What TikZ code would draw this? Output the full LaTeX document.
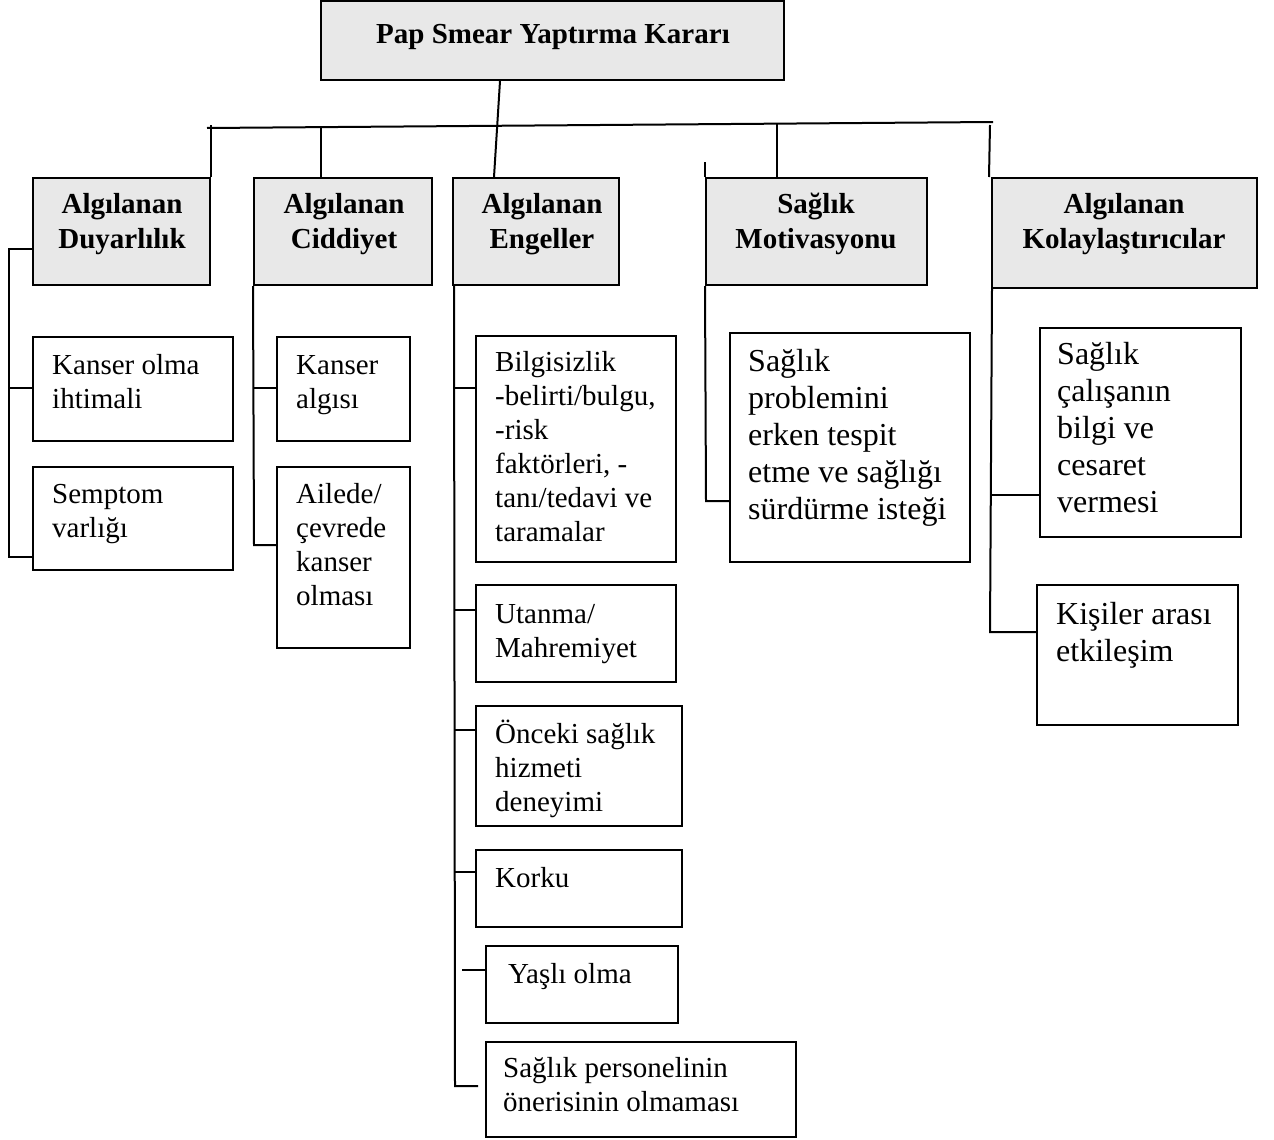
\documentclass[tikz,border=0pt]{standalone}
\usepackage{fontspec}
\setmainfont{Liberation Serif}
\usetikzlibrary{fit}
\definecolor{headfill}{HTML}{E8E8E8}
\begin{document}
\begin{tikzpicture}[x=1pt,y=-1pt,
  frame/.style={draw=black, line width=2pt, inner sep=0pt},
  headbox/.style={frame, fill=headfill},
  conn/.style={draw=black, line width=2pt},
  % texts are placed by the baseline of their last line
  headtxt/.style={inner sep=0pt, anchor=base, align=center,
    font=\fontsize{29}{35}\selectfont\bfseries},
  itemtxt/.style={inner sep=0pt, anchor=base west, align=left,
    font=\fontsize{29}{34}\selectfont},
  bigtxt/.style={inner sep=0pt, anchor=base west, align=left,
    font=\fontsize{32}{36.8}\selectfont}]
\fill[white] (0,0) rectangle (1274,1140);
\useasboundingbox (0,0) rectangle (1274,1140);

% decision box and the five model dimensions
\node[headbox, fit={(321,1) (784,80)}] (top) {};
\node[headtxt] (topt) at (553,44) {Pap Smear Yaptırma Kararı};

\node[headbox, fit={(33,178) (210,285)}] (h1) {};
\node[headbox, fit={(254,178) (432,285)}] (h2) {};
\node[headbox, fit={(453,178) (619,285)}] (h3) {};
\node[headbox, fit={(706,178) (927,285)}] (h4) {};
\node[headbox, fit={(992,178) (1257,288)}] (h5) {};
\node[headtxt] (h1t) at (122,248) {Algılanan\\Duyarlılık};
\node[headtxt] (h2t) at (344,248) {Algılanan\\Ciddiyet};
\node[headtxt] (h3t) at (542,248) {Algılanan\\Engeller};
\node[headtxt] (h4t) at (816,248) {Sağlık\\Motivasyonu};
\node[headtxt] (h5t) at (1124,248) {Algılanan\\Kolaylaştırıcılar};

% items under each dimension
\node[frame, fit={(33,337) (233,441)}] (k1) {};
\node[frame, fit={(33,467) (233,570)}] (k2) {};
\node[itemtxt] (k1t) at (52,408) {Kanser olma\\ihtimali};
\node[itemtxt] (k2t) at (52,537) {Semptom\\varlığı};

\node[frame, fit={(277,337) (410,441)}] (c1) {};
\node[frame, fit={(277,467) (410,648)}] (c2) {};
\node[itemtxt] (c1t) at (296,408) {Kanser\\algısı};
\node[itemtxt] (c2t) at (296,605) {Ailede/\\çevrede\\kanser\\olması};

\node[frame, fit={(476,336) (676,562)}] (e1) {};
\node[frame, fit={(476,585) (676,682)}] (e2) {};
\node[frame, fit={(476,706) (682,826)}] (e3) {};
\node[frame, fit={(476,850) (682,927)}] (e4) {};
\node[frame, fit={(486,946) (678,1023)}] (e5) {};
\node[frame, fit={(486,1042) (796,1137)}] (e6) {};
\node[itemtxt] (e1t) at (495,541) {Bilgisizlik\\-belirti/bulgu,\\-risk\\faktörleri, -\\tanı/tedavi ve\\taramalar};
\node[itemtxt] (e2t) at (495,657) {Utanma/\\Mahremiyet};
\node[itemtxt] (e3t) at (495,811) {Önceki sağlık\\hizmeti\\deneyimi};
\node[itemtxt] (e4t) at (495,887) {Korku};
\node[itemtxt] (e5t) at (508,983) {Yaşlı olma};
\node[itemtxt] (e6t) at (503,1111) {Sağlık personelinin\\önerisinin olmaması};

\node[frame, fit={(730,333) (970,562)}] (m1) {};
\node[bigtxt] (m1t) at (748,519) {Sağlık\\problemini\\erken tespit\\etme ve sağlığı\\sürdürme isteği};

\node[frame, fit={(1040,328) (1241,537)}] (f1) {};
\node[frame, fit={(1037,585) (1238,725)}] (f2) {};
\node[bigtxt] (f1t) at (1057,512) {Sağlık\\çalışanın\\bilgi ve\\cesaret\\vermesi};
\node[bigtxt] (f2t) at (1056,661) {Kişiler arası\\etkileşim};

% tree: decision box down to the common bar
\draw[conn] (top.south -| 500,0) -- (h3.north -| 494,0);
\draw[conn] (207,128) -- (993,122);
\draw[conn] (h1.north east) -- (h1.north east |- 0,125);
\draw[conn] (h2.north -| 321,0) -- (321,127);
\draw[conn] (h4.north -| 777,0) -- (777,124);
\draw[conn] (h5.north west) ++(-2,0) -- (990,125);
\draw[conn] (h4.north west) -- ++(0,-15);

% branches to the items
\draw[conn] (h1.west |- 0,249) -- (9,249) -- (9,557) -- (k2.west |- 0,557);
\draw[conn] (9,388) -- (k1.west |- 0,388);

\draw[conn] (h2.south west) -- (254,545) -- (c2.west |- 0,545);
\draw[conn] (254,388) -- (c1.west |- 0,388);

\draw[conn] ([xshift=2pt]h3.south west) -- (455,1086) -- (478,1086);
\draw[conn] (455,388) -- (e1.west |- 0,388);
\draw[conn] (455,610) -- (e2.west |- 0,610);
\draw[conn] (455,730) -- (e3.west |- 0,730);
\draw[conn] (455,872) -- (e4.west |- 0,872);
\draw[conn] (462,970) -- (e5.west |- 0,970);

\draw[conn] (h4.south west) -- (706,501) -- (m1.west |- 0,501);

\draw[conn] ([xshift=1pt]h5.south west) -- (990,632) -- (f2.west |- 0,632);
\draw[conn] (991.5,495) -- (f1.west |- 0,495);
\end{tikzpicture}
\end{document}
